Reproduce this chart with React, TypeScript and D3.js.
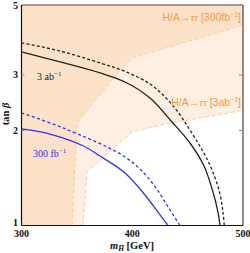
import { useEffect, useRef } from 'react'
import * as d3 from 'd3'

// excluded-region boundaries, H/A -> tau tau (mH in GeV, tan beta)
const tauTau3ab: [number, number][] = [
  [355.5, 1.0], [359.1, 1.48], [399.8, 1.98], [425.1, 2.08], [500, 2.32],
]
const tauTau300fb: [number, number][] = [
  [345.6, 1.0], [350.1, 2.11], [366.4, 2.5], [393.5, 3.23], [399.8, 3.4], [500, 4.32],
]

// reach curves
const reach3abSolid: [number, number][] = [
  [300, 3.55], [334.8, 3.3], [370.9, 3.045], [393.5, 2.85], [416.0, 2.537], [435.9, 2.129],
  [452.1, 1.826], [464.8, 1.544], [472.9, 1.277], [477.4, 1.104], [479.2, 1.0],
]
const reach3abDashed: [number, number][] = [
  [300, 3.79], [334.8, 3.575], [370.9, 3.275], [393.5, 3.08], [416.0, 2.81], [429.6, 2.556],
  [441.3, 2.29], [450.3, 2.053], [459.4, 1.826], [466.6, 1.649], [473.8, 1.446],
  [479.2, 1.259], [481.9, 1.104], [483.1, 1.0],
]
const reach300Solid: [number, number][] = [
  [300, 2.023], [325.7, 1.95], [355.5, 1.79], [370.9, 1.66], [393.5, 1.467],
  [411.5, 1.249], [425.1, 1.08], [432.3, 1.0],
]
const reach300Dashed: [number, number][] = [
  [300, 2.274], [337.5, 2.038], [393.5, 1.649], [416.0, 1.394], [434.1, 1.12], [443.1, 1.0],
]

const xTicks = [300, 400, 500]
const yTicks = [1, 2, 3, 5]

const SERIF = '"Liberation Serif", "DejaVu Serif", serif'
const SANS = '"Liberation Sans", Arial, sans-serif'

export default function App() {
  const ref = useRef<SVGSVGElement | null>(null)

  useEffect(() => {
    if (!ref.current) return
    const svg = d3.select(ref.current)
    svg.selectAll('*').remove()

    const x = d3.scaleLinear().domain([300, 500]).range([21.5, 243])
    const y = d3.scaleLog().domain([1, 5]).range([225.5, 5])

    const [x0, x1] = x.range()
    const [y0, y1] = y.range()

    // shaded regions: everything above/left of the boundary
    const region = (pts: [number, number][]) => {
      const poly = [...pts, [500, 5], [300, 5], [300, 1]] as [number, number][]
      return 'M' + poly.map(p => `${x(p[0])},${y(p[1])}`).join('L') + 'Z'
    }
    svg.append('path').attr('d', region(tauTau3ab)).attr('fill', '#feefe2')
    svg.append('path').attr('d', region(tauTau300fb)).attr('fill', '#fde2ca')

    const straight = d3.line<[number, number]>().x(d => x(d[0])).y(d => y(d[1]))
    for (const b of [tauTau3ab, tauTau300fb]) {
      svg.append('path').attr('d', straight(b)).attr('fill', 'none')
        .attr('stroke', '#fdc99a').attr('stroke-width', 1).attr('stroke-dasharray', '4,2.5')
    }

    const smooth = d3.line<[number, number]>().x(d => x(d[0])).y(d => y(d[1])).curve(d3.curveCatmullRom)
    const curves: [[number, number][], string, string | null][] = [
      [reach3abSolid, '#222', null],
      [reach3abDashed, '#222', '3,2.2'],
      [reach300Solid, '#3333ee', null],
      [reach300Dashed, '#3333ee', '3,2.5'],
    ]
    for (const [pts, col, dash] of curves) {
      const p = svg.append('path').attr('d', smooth(pts)).attr('fill', 'none')
        .attr('stroke', col).attr('stroke-width', 1.3)
      if (dash) p.attr('stroke-dasharray', dash)
    }

    // frame
    svg.append('line').attr('x1', x0).attr('x2', x1).attr('y1', y1).attr('y2', y1)
      .attr('stroke', '#8a7a70').attr('stroke-width', 1.6)
    svg.append('line').attr('x1', x1).attr('x2', x1).attr('y1', y1).attr('y2', y0)
      .attr('stroke', '#444').attr('stroke-width', 1.2)
    svg.append('line').attr('x1', x0).attr('x2', x0).attr('y1', y1).attr('y2', y0)
      .attr('stroke', '#111').attr('stroke-width', 1.2)
    svg.append('line').attr('x1', x0).attr('x2', x1).attr('y1', y0).attr('y2', y0)
      .attr('stroke', '#111').attr('stroke-width', 1.2)

    // inward ticks
    for (const t of [2, 3]) {
      svg.append('line').attr('x1', x0).attr('x2', x0 + 3).attr('y1', y(t)).attr('y2', y(t))
        .attr('stroke', '#888').attr('stroke-width', 1)
      svg.append('line').attr('x1', x1).attr('x2', x1 - 4).attr('y1', y(t)).attr('y2', y(t))
        .attr('stroke', '#888').attr('stroke-width', 1)
    }

    // tick labels
    svg.selectAll('.ytick').data(yTicks).enter().append('text')
      .attr('x', 18).attr('y', d => y(d) - (d === 1 ? 3.5 : 0)).attr('dy', '0.35em')
      .attr('text-anchor', 'end').attr('font-family', SERIF).attr('font-size', 10)
      .attr('font-weight', 'bold').attr('fill', '#111').text(d => d)
    svg.selectAll('.xtick').data(xTicks).enter().append('text')
      .attr('x', d => x(d)).attr('y', 237)
      .attr('text-anchor', 'middle').attr('font-family', SERIF).attr('font-size', 10)
      .attr('font-weight', 'bold').attr('fill', '#111').text(d => d)

    // axis titles
    const xl = svg.append('text').attr('x', 132).attr('y', 249).attr('text-anchor', 'middle')
      .attr('font-family', SERIF).attr('font-size', 10.5).attr('font-weight', 'bold').attr('fill', '#111')
    xl.append('tspan').attr('font-style', 'italic').text('m')
    xl.append('tspan').attr('font-style', 'italic').attr('font-size', 7.5).attr('dy', 2).text('H')
    xl.append('tspan').attr('dy', -2).text(' [GeV]')

    const yl = svg.append('text').attr('transform', 'translate(9,114) rotate(-90)')
      .attr('text-anchor', 'middle').attr('font-family', SERIF).attr('font-size', 10.5)
      .attr('font-weight', 'bold').attr('fill', '#111')
    yl.append('tspan').text('tan ')
    yl.append('tspan').attr('font-style', 'italic').text('β')

    // curve labels
    const lab3 = svg.append('text').attr('x', 37).attr('y', 80).attr('font-family', SERIF)
      .attr('font-size', 10).attr('fill', '#222')
    lab3.append('tspan').text('3 ab')
    lab3.append('tspan').attr('font-size', 7).attr('dy', -4).text('−1')

    const lab300 = svg.append('text').attr('x', 33).attr('y', 157).attr('font-family', SERIF)
      .attr('font-size', 10).attr('fill', '#3333ee')
    lab300.append('tspan').text('300 fb')
    lab300.append('tspan').attr('font-size', 7).attr('dy', -4).text('−1')

    const orange = '#f59a45'
    const tauLabel = (yPos: number, lumi: string) => {
      const t = svg.append('text').attr('x', 241).attr('y', yPos).attr('text-anchor', 'end')
        .attr('font-family', SANS).attr('font-size', 10.5).attr('fill', orange)
      t.append('tspan').text('H/A→')
      t.append('tspan').attr('font-family', SERIF).attr('font-style', 'italic').text('ττ')
      t.append('tspan').text(` [${lumi}`)
      t.append('tspan').attr('font-size', 7).attr('dy', -4).text('−1')
      t.append('tspan').attr('dy', 4).text(']')
    }
    tauLabel(21, '300fb')
    tauLabel(106, '3ab')
  }, [])

  return (
    <svg ref={ref} width={250} height={253}
      style={{ position: 'absolute', left: 0, top: 0, background: '#fff' }} />
  )
}
